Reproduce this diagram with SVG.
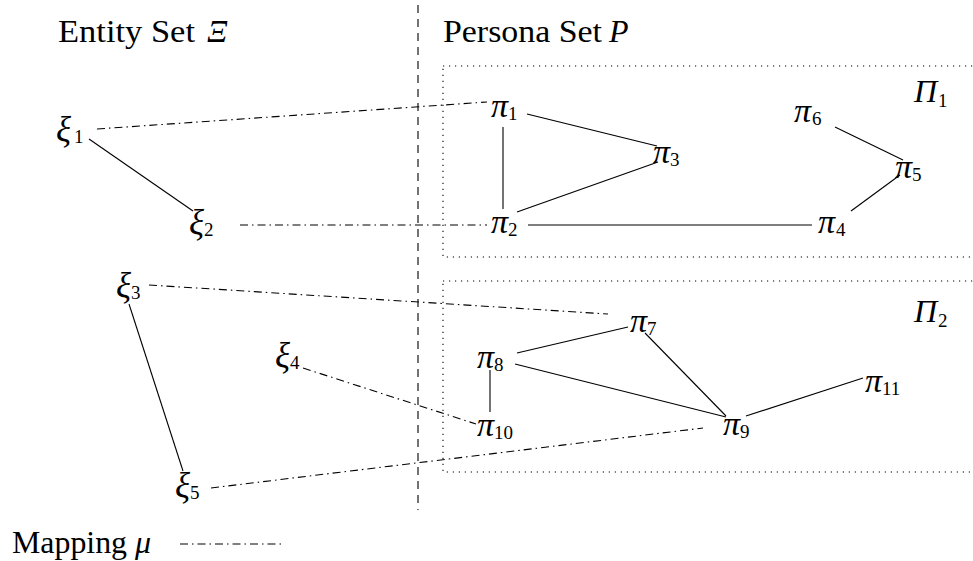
<svg xmlns="http://www.w3.org/2000/svg" width="973" height="561" viewBox="0 0 973 561">
<style>
  text { font-family: "Liberation Serif", "Times New Roman", "DejaVu Serif", serif; fill: #000; }
  .t { font-size: 31px; }
  .m { font-style: italic; }
  .pi { font-size: 34px; }
  .xi { font-size: 35px; }
  .cap { font-size: 32px; }
  .sub { font-size: 19px; }
  .edge { stroke: #000; stroke-width: 1.1; fill: none; }
  .map { stroke: #000; stroke-width: 1.1; fill: none; stroke-dasharray: 8 4 1.5 4; }
  .sep { stroke: #000; stroke-width: 1.1; fill: none; stroke-dasharray: 8 6; }
  .box { stroke: #000; stroke-width: 1.1; fill: none; stroke-dasharray: 1.2 4.8; }
</style>

<g id="labels">
  <text class="t" x="58" y="42" textLength="137" lengthAdjust="spacingAndGlyphs">Entity Set</text>
  <text class="m cap" x="207" y="42">Ξ</text>
  <text class="t" x="443" y="42" textLength="159" lengthAdjust="spacingAndGlyphs">Persona Set</text>
  <text class="m cap" x="609" y="42">P</text>
</g>

<g id="separator">
  <line class="sep" x1="418" y1="5" x2="418" y2="510"/>
</g>

<g id="group-Pi1">
  <rect class="box" x="443" y="66" width="540" height="191"/>
  <text class="m cap" x="914" y="102">Π</text><text class="sub" x="938" y="107">1</text>
</g>
<g id="group-Pi2">
  <rect class="box" x="443" y="281" width="540" height="191"/>
  <text class="m cap" x="914" y="322">Π</text><text class="sub" x="938" y="327">2</text>
</g>

<g id="connectors">
  <line class="edge" x1="89" y1="139" x2="193" y2="211"/>
  <line class="edge" x1="129" y1="304" x2="183" y2="471"/>
  <line class="edge" x1="503" y1="127" x2="503" y2="209"/>
  <line class="edge" x1="527" y1="114" x2="657" y2="146"/>
  <line class="edge" x1="517" y1="212" x2="658" y2="162"/>
  <line class="edge" x1="528" y1="225" x2="812" y2="225"/>
  <line class="edge" x1="835" y1="127" x2="903" y2="160"/>
  <line class="edge" x1="900" y1="175" x2="851" y2="211"/>
  <line class="edge" x1="517" y1="353" x2="628" y2="327"/>
  <line class="edge" x1="515" y1="364" x2="726" y2="417"/>
  <line class="edge" x1="645" y1="333" x2="726" y2="416"/>
  <line class="edge" x1="490" y1="370" x2="490" y2="412"/>
  <line class="edge" x1="746" y1="416" x2="863" y2="378"/>
  <line class="map" x1="97" y1="129" x2="487" y2="102"/>
  <line class="map" x1="240" y1="225" x2="487" y2="225"/>
  <line class="map" x1="149" y1="285" x2="608" y2="314"/>
  <line class="map" x1="303" y1="368" x2="476" y2="424"/>
  <line class="map" x1="211" y1="488" x2="703" y2="428"/>
</g>

<g id="xi1"><text class="m xi" x="56" y="141">ξ</text><text class="sub" x="74" y="143">1</text></g>
<g id="xi2"><text class="m xi" x="189" y="234">ξ</text><text class="sub" x="204" y="236">2</text></g>
<g id="xi3"><text class="m xi" x="116" y="297">ξ</text><text class="sub" x="131" y="299">3</text></g>
<g id="xi4"><text class="m xi" x="275" y="367">ξ</text><text class="sub" x="290" y="369">4</text></g>
<g id="xi5"><text class="m xi" x="175" y="497">ξ</text><text class="sub" x="190" y="499">5</text></g>

<g id="pi1"><text class="m pi" x="491" y="117">π</text><text class="sub" x="508" y="120">1</text></g>
<g id="pi2"><text class="m pi" x="491" y="233">π</text><text class="sub" x="508" y="236">2</text></g>
<g id="pi3"><text class="m pi" x="653" y="163">π</text><text class="sub" x="670" y="166">3</text></g>
<g id="pi4"><text class="m pi" x="818" y="233">π</text><text class="sub" x="836" y="236">4</text></g>
<g id="pi5"><text class="m pi" x="895" y="178">π</text><text class="sub" x="912" y="181">5</text></g>
<g id="pi6"><text class="m pi" x="794" y="122">π</text><text class="sub" x="812" y="125">6</text></g>
<g id="pi7"><text class="m pi" x="630" y="332">π</text><text class="sub" x="647" y="335">7</text></g>
<g id="pi8"><text class="m pi" x="477" y="368">π</text><text class="sub" x="494" y="371">8</text></g>
<g id="pi9"><text class="m pi" x="723" y="435">π</text><text class="sub" x="740" y="438">9</text></g>
<g id="pi10"><text class="m pi" x="477" y="436">π</text><text class="sub" x="494" y="439">10</text></g>
<g id="pi11"><text class="m pi" x="865" y="392">π</text><text class="sub" x="882" y="395">11</text></g>

<g id="legend">
  <text class="t" x="12" y="553" textLength="115" lengthAdjust="spacingAndGlyphs">Mapping</text>
  <text class="m cap" x="135" y="553">μ</text>
  <line class="map" x1="180" y1="544" x2="284" y2="544"/>
</g>
</svg>
